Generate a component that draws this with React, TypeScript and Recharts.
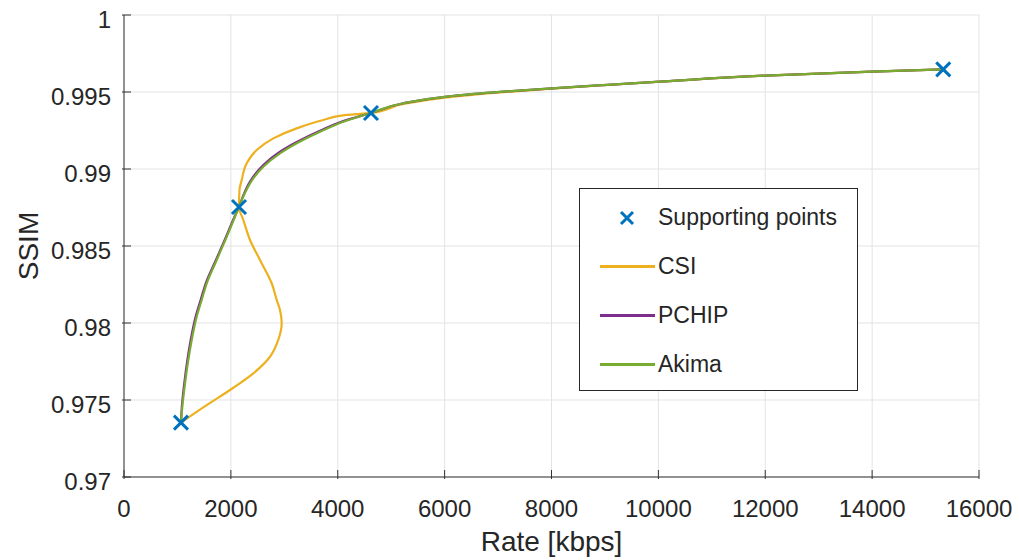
import React from 'react';
import { ComposedChart, Line, Scatter, XAxis, YAxis, CartesianGrid } from 'recharts';

// supporting points (rate in kbps, SSIM)
const supportRate = [1066, 2152, 4622, 15331];
const supportSsim = [0.97353, 0.98753, 0.99364, 0.99647];

// curves
const csiRate = [1067, 1553, 2040, 2420, 2732, 2887, 2951, 2919, 2858, 2764, 2545, 2358, 2233, 2152, 2161, 2203, 2296, 2483, 2794, 3232, 3730, 4167, 4622, 5227, 6039, 7098, 8004, 8969, 10030, 11995, 13992, 15331];
const csiSsim = [0.97353, 0.97468, 0.97578, 0.97673, 0.97781, 0.9789, 0.97998, 0.98084, 0.98149, 0.98258, 0.98409, 0.98539, 0.98669, 0.98753, 0.98864, 0.98929, 0.99037, 0.99123, 0.99199, 0.99264, 0.99318, 0.99351, 0.99364, 0.99422, 0.99465, 0.99499, 0.99522, 0.99544, 0.99567, 0.99606, 0.99632, 0.99647];

const pchipRate = [1067, 1085, 1128, 1186, 1248, 1340, 1434, 1530, 1720, 1910, 2068, 2152, 2246, 2358, 2607, 2919, 3232, 3668, 4104, 4622, 5227, 6039, 7098, 8004, 8969, 10030, 11995, 13992, 15331];
const pchipSsim = [0.97353, 0.97468, 0.97608, 0.9776, 0.9789, 0.98041, 0.98149, 0.98258, 0.98409, 0.9856, 0.9869, 0.98753, 0.9884, 0.98918, 0.99026, 0.99112, 0.99175, 0.99248, 0.99311, 0.99364, 0.99427, 0.9947, 0.99502, 0.99524, 0.99545, 0.99567, 0.99606, 0.99632, 0.99647];

const akimaRate = [1067, 1095, 1142, 1203, 1267, 1360, 1454, 1548, 1735, 1922, 2077, 2152, 2246, 2358, 2607, 2919, 3232, 3668, 4104, 4622, 5227, 6039, 7098, 8004, 8969, 10030, 11995, 13992, 15331];
const akimaSsim = [0.97353, 0.97468, 0.97608, 0.9776, 0.9789, 0.98041, 0.98149, 0.98258, 0.98409, 0.9856, 0.9869, 0.98753, 0.98831, 0.98907, 0.99015, 0.99102, 0.99167, 0.99242, 0.99307, 0.99364, 0.99427, 0.9947, 0.99502, 0.99524, 0.99545, 0.99567, 0.99606, 0.99632, 0.99647];

const xTicks = [0, 2000, 4000, 6000, 8000, 10000, 12000, 14000, 16000];
const yTicks = [0.97, 0.975, 0.98, 0.985, 0.99, 0.995, 1];

const BLUE = '#0072BD';
const COLORS = { CSI: '#EDB120', PCHIP: '#7E2F8E', Akima: '#77AC30' };
const FONT = '"Liberation Sans", Arial, Helvetica, sans-serif';
const TXT = '#262626';
const AXIS = '#333333';

const zip = (xs: number[], ys: number[]) => xs.map((x, i) => ({ x, y: ys[i] }));

const supportData = zip(supportRate, supportSsim);
const csiData = zip(csiRate, csiSsim);
const pchipData = zip(pchipRate, pchipSsim);
const akimaData = zip(akimaRate, akimaSsim);

const BottomTick = (props: any) => {
  const { x, y, payload } = props;
  return (
    <g>
      <line x1={x} x2={x} y1={y} y2={y - 9} stroke={AXIS} strokeWidth={1} />
      <text x={x} y={y + 38} textAnchor="middle" fill={TXT} fontSize={24} fontFamily={FONT}>
        {payload.value}
      </text>
    </g>
  );
};

const LeftTick = (props: any) => {
  const { x, y, payload } = props;
  return (
    <g>
      <line x1={x} x2={x + 9} y1={y} y2={y} stroke={AXIS} strokeWidth={1} />
      <text x={x - 11} y={y + 12.5} textAnchor="end" fill={TXT} fontSize={24} fontFamily={FONT}>
        {payload.value}
      </text>
    </g>
  );
};

const TopTick = (props: any) => {
  const { x, y } = props;
  return <line x1={x} x2={x} y1={y} y2={y + 9} stroke={AXIS} strokeWidth={1} />;
};

const RightTick = (props: any) => {
  const { x, y } = props;
  return <line x1={x} x2={x - 9} y1={y} y2={y} stroke={AXIS} strokeWidth={1} />;
};

const XMark = (props: any) => {
  const { cx, cy } = props;
  if (cx == null || cy == null) return null;
  const s = 7;
  return (
    <path
      d={`M${cx - s},${cy - s}L${cx + s},${cy + s}M${cx + s},${cy - s}L${cx - s},${cy + s}`}
      stroke={BLUE}
      strokeWidth={3}
      fill="none"
    />
  );
};

const LegendBox = () => {
  const row = (key: string, sample: React.ReactNode) => (
    <div key={key} style={{ display: 'flex', alignItems: 'center', height: 49 }}>
      <div style={{ width: 78, display: 'flex', justifyContent: 'center', paddingLeft: 16, boxSizing: 'border-box' }}>
        {sample}
      </div>
      <span>{key}</span>
    </div>
  );
  const lineSample = (c: string) => <div style={{ width: 55, height: 2.5, background: c }} />;
  return (
    <div
      style={{
        position: 'absolute',
        left: 579,
        top: 188,
        width: 279,
        height: 203,
        border: '1px solid #262626',
        background: '#fff',
        boxSizing: 'border-box',
        fontFamily: FONT,
        fontSize: 23,
        color: TXT,
        paddingTop: 4,
      }}
    >
      {row(
        'Supporting points',
        <svg width={16} height={16}>
          <path d="M2,2L14,14M14,2L2,14" stroke={BLUE} strokeWidth={3} />
        </svg>
      )}
      {row('CSI', lineSample(COLORS.CSI))}
      {row('PCHIP', lineSample(COLORS.PCHIP))}
      {row('Akima', lineSample(COLORS.Akima))}
    </div>
  );
};

export default function App() {
  return (
    <div style={{ position: 'fixed', left: 0, top: 0, width: 1019, height: 560, background: '#fff' }}>
      <ComposedChart width={1019} height={560} margin={{ top: 15, right: 40, bottom: 13, left: 0 }}>
        <CartesianGrid stroke="#e3e3e3" strokeWidth={1} />
        <XAxis
          dataKey="x"
          type="number"
          domain={[0, 16000]}
          ticks={xTicks}
          interval={0}
          height={70}
          tickSize={0}
          tickLine={false}
          tick={<BottomTick />}
          axisLine={{ stroke: AXIS, strokeWidth: 1 }}
          allowDataOverflow
          label={{
            content: ({ viewBox }: any) => (
              <text
                x={viewBox.x + viewBox.width / 2}
                y={viewBox.y + 74}
                textAnchor="middle"
                fill={TXT}
                fontSize={28}
                fontFamily={FONT}
              >
                Rate [kbps]
              </text>
            ),
          }}
        />
        <XAxis
          xAxisId="top"
          orientation="top"
          type="number"
          domain={[0, 16000]}
          ticks={xTicks}
          interval={0}
          height={0}
          tickSize={0}
          tickLine={false}
          tick={<TopTick />}
          axisLine={{ stroke: AXIS, strokeWidth: 1 }}
          allowDataOverflow
        />
        <YAxis
          dataKey="y"
          type="number"
          domain={[0.97, 1]}
          ticks={yTicks}
          interval={0}
          width={124}
          tickSize={0}
          tickLine={false}
          tick={<LeftTick />}
          axisLine={{ stroke: AXIS, strokeWidth: 1 }}
          allowDataOverflow
          label={{
            content: ({ viewBox }: any) => {
              const cx = 38;
              const cy = viewBox.y + viewBox.height / 2;
              return (
                <text
                  x={cx}
                  y={cy}
                  transform={`rotate(-90 ${cx} ${cy})`}
                  textAnchor="middle"
                  fill={TXT}
                  fontSize={28}
                  fontFamily={FONT}
                >
                  SSIM
                </text>
              );
            },
          }}
        />
        <YAxis
          yAxisId="right"
          orientation="right"
          type="number"
          domain={[0.97, 1]}
          ticks={yTicks}
          interval={0}
          width={0}
          tickSize={0}
          tickLine={false}
          tick={<RightTick />}
          axisLine={{ stroke: AXIS, strokeWidth: 1 }}
          allowDataOverflow
        />
        <Line data={csiData} dataKey="y" name="CSI" type="monotoneY" stroke={COLORS.CSI} strokeWidth={2.2} dot={false} activeDot={false} isAnimationActive={false} />
        <Line data={pchipData} dataKey="y" name="PCHIP" type="monotoneY" stroke={COLORS.PCHIP} strokeWidth={2.2} dot={false} activeDot={false} isAnimationActive={false} />
        <Line data={akimaData} dataKey="y" name="Akima" type="monotoneY" stroke={COLORS.Akima} strokeWidth={2.2} dot={false} activeDot={false} isAnimationActive={false} />
        <Scatter data={supportData} name="Supporting points" shape={<XMark />} isAnimationActive={false} />
      </ComposedChart>
      <LegendBox />
    </div>
  );
}
